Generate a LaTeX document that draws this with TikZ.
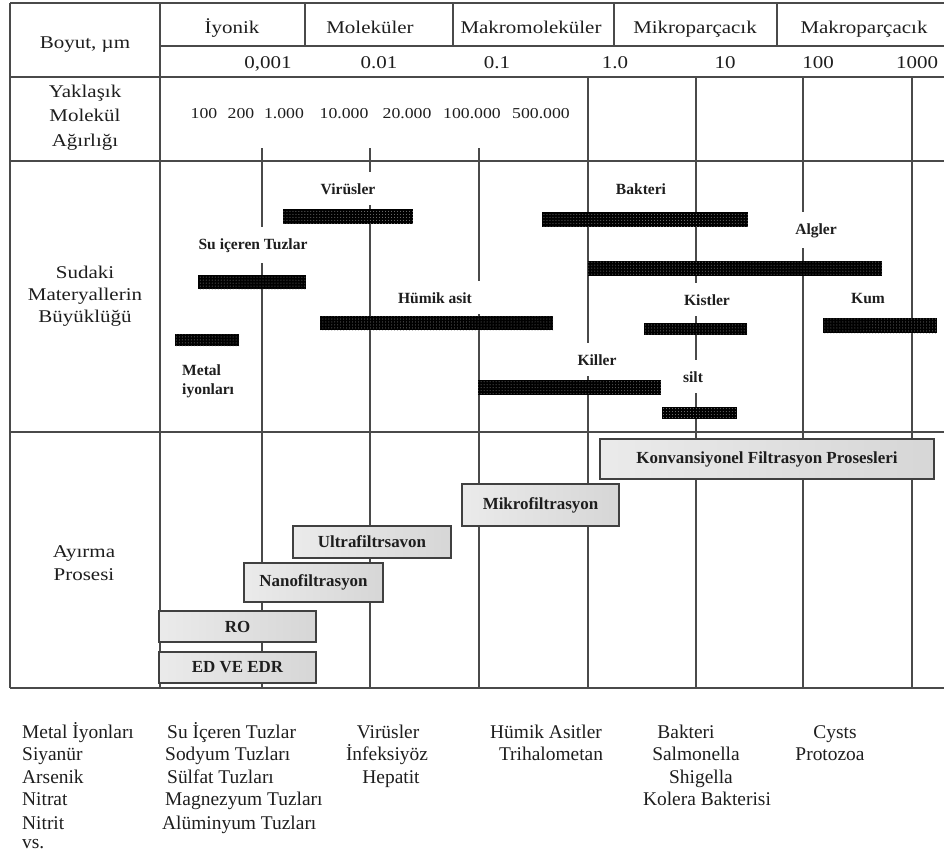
\documentclass[tikz,border=0pt]{standalone}
\usepackage{fontspec}
\setmainfont{Liberation Serif}
\newfontfamily\widefont[FakeStretch=1.17]{Liberation Serif}
\usetikzlibrary{patterns}
\definecolor{ink}{HTML}{1E1E1E}
\definecolor{rulec}{HTML}{4A4A4A}
\begin{document}
\begin{tikzpicture}[x=1bp,y=-1bp,
  gridline/.style={draw=rulec,line width=1.3bp},
  hdr/.style={font=\widefont\fontsize{18}{20}\selectfont,text=ink,inner sep=0pt,anchor=base},
  mw/.style={font=\widefont\fontsize{15.2}{17}\selectfont,text=ink,inner sep=0pt,anchor=base},
  lbl/.style={font=\bfseries\fontsize{15.6}{17}\selectfont,text=ink,fill=white,inner xsep=10pt,inner ysep=11pt,anchor=base},
  plainlbl/.style={font=\bfseries\fontsize{15.6}{17}\selectfont,text=ink,inner sep=0pt,anchor=base west},
  bar/.style={fill=black,postaction={pattern=dots,pattern color=white!50!black}},
  proc/.style={draw=black!75,line width=1.5bp,left color=black!8,right color=black!16,font=\bfseries\fontsize{17}{19}\selectfont,text=ink,inner sep=0pt},
  lst/.style={font=\fontsize{19.5}{22}\selectfont,text=ink,inner sep=0pt,anchor=base},
  lstw/.style={lst,anchor=base west}
]
\fill[white] (0,0) rectangle (946,857);
\useasboundingbox (0,0) rectangle (946,857);

% ---- table rules
\draw[gridline] (10,3) -- (944,3);
\draw[gridline] (160,46) -- (944,46);
\draw[gridline] (10,77) -- (944,77);
\draw[gridline] (10,161) -- (944,161);
\draw[gridline] (10,432) -- (944,432);
\draw[gridline] (10,688) -- (944,688);
\draw[gridline] (10,3) -- (10,688);
\draw[gridline] (160,3) -- (160,688);
\foreach \x in {305,453,614,777} \draw[gridline] (\x,3) -- (\x,46);
\foreach \x in {262,370,479} {
  \draw[gridline] (\x,148) -- (\x,161);
  \draw[gridline] (\x,161) -- (\x,688);
}
\foreach \x in {588,696,803,912} \draw[gridline] (\x,77) -- (\x,688);

% ---- header texts
\node[hdr] (boyut) at (85,48) {Boyut, µm};
\node[hdr] (iyonik) at (232,33) {İyonik};
\node[hdr] (molek) at (370,33) {Moleküler};
\node[hdr] (makromol) at (531,33) {Makromoleküler};
\node[hdr] (mikrop) at (695,33) {Mikroparçacık};
\node[hdr] (makrop) at (864,33) {Makroparçacık};

\node[hdr] (n1) at (268,68) {0,001};
\node[hdr] (n2) at (379,68) {0.01};
\node[hdr] (n3) at (497,68) {0.1};
\node[hdr] (n4) at (615,68) {1.0};
\node[hdr] (n5) at (725,68) {10};
\node[hdr] (n6) at (818,68) {100};
\node[hdr] (n7) at (917,68) {1000};

\node[hdr] (yak1) at (85,97) {Yaklaşık};
\node[hdr] (yak2) at (85,121) {Molekül};
\node[hdr] (yak3) at (85,146) {Ağırlığı};

\node[mw] (w1) at (204,118) {100};
\node[mw] (w2) at (241,118) {200};
\node[mw] (w3) at (284,118) {1.000};
\node[mw] (w4) at (344,118) {10.000};
\node[mw] (w5) at (407,118) {20.000};
\node[mw] (w6) at (472,118) {100.000};
\node[mw] (w7) at (541,118) {500.000};

\node[hdr] (sud1) at (85,278) {Sudaki};
\node[hdr] (sud2) at (85,300) {Materyallerin};
\node[hdr] (sud3) at (85,322) {Büyüklüğü};

\node[hdr] (ayr1) at (84,557) {Ayırma};
\node[hdr] (ayr2) at (84,580) {Prosesi};

% ---- material labels (white backing interrupts the grid lines)
\node[lbl] (lvir) at (348,194) {Virüsler};
\node[lbl] (lsu) at (253,249) {Su içeren Tuzlar};
\node[lbl] (lhum) at (435,303) {Hümik asit};
\node[lbl] (lbak) at (641,194) {Bakteri};
\node[lbl] (lalg) at (816,234) {Algler};
\node[lbl] (lkis) at (707,305) {Kistler};
\node[lbl] (lkum) at (868,303) {Kum};
\node[lbl] (lkil) at (597,365) {Killer};
\node[lbl] (lsilt) at (693,382) {silt};
\node[plainlbl] (lmet1) at (182,375) {Metal};
\node[plainlbl] (lmet2) at (182,394) {iyonları};

% ---- size bars
\path[bar] (283,209) rectangle (413,224);   % Virüsler
\path[bar] (198,275) rectangle (306,289);   % Su içeren Tuzlar
\path[bar] (320,316) rectangle (553,330);   % Hümik asit
\path[bar] (175,334) rectangle (239,346);   % Metal iyonları
\path[bar] (478,380) rectangle (661,395);   % Killer
\path[bar] (542,212) rectangle (748,227);   % Bakteri
\path[bar] (588,261) rectangle (882,276);   % Algler
\path[bar] (644,323) rectangle (747,335);   % Kistler
\path[bar] (823,318) rectangle (937,333);   % Kum
\path[bar] (662,407) rectangle (737,419);   % silt

% ---- separation processes
\node[proc,minimum width=334bp,minimum height=40bp] (konv) at (767,459) {Konvansiyonel Filtrasyon Prosesleri};
\node[proc,minimum width=157bp,minimum height=42bp] (mikro) at (540.5,505) {Mikrofiltrasyon};
\node[proc,minimum width=158bp,minimum height=32bp] (ultra) at (372,542) {Ultrafiltrsavon};
\node[proc,minimum width=139bp,minimum height=39bp] (nano) at (313.5,582.5) {Nanofiltrasyon};
\node[proc,minimum width=157bp,minimum height=31bp] (ro) at (237.5,626.5) {RO};
\node[proc,minimum width=157bp,minimum height=31bp] (ed) at (237.5,667.5) {ED VE EDR};

% ---- bottom lists
\node[lstw] (c1a) at (22,738) {Metal İyonları};
\node[lstw] (c1b) at (22,760) {Siyanür};
\node[lstw] (c1c) at (22,783) {Arsenik};
\node[lstw] (c1d) at (22,805) {Nitrat};
\node[lstw] (c1e) at (22,829) {Nitrit};
\node[lstw] (c1f) at (22,848) {vs.};

\node[lstw] (c2a) at (167,738) {Su İçeren Tuzlar};
\node[lstw] (c2b) at (165,760) {Sodyum Tuzları};
\node[lstw] (c2c) at (167,783) {Sülfat Tuzları};
\node[lstw] (c2d) at (165,805) {Magnezyum Tuzları};
\node[lstw] (c2e) at (162,829) {Alüminyum Tuzları};

\node[lst] (c3a) at (388,738) {Virüsler};
\node[lst] (c3b) at (387,760) {İnfeksiyöz};
\node[lst] (c3c) at (391,783) {Hepatit};

\node[lst] (c4a) at (546,738) {Hümik Asitler};
\node[lst] (c4b) at (551,760) {Trihalometan};

\node[lst] (c5a) at (686,738) {Bakteri};
\node[lst] (c5b) at (696,760) {Salmonella};
\node[lst] (c5c) at (701,783) {Shigella};
\node[lst] (c5d) at (707,805) {Kolera Bakterisi};

\node[lst] (c6a) at (835,738) {Cysts};
\node[lst] (c6b) at (830,760) {Protozoa};
\end{tikzpicture}
\end{document}
